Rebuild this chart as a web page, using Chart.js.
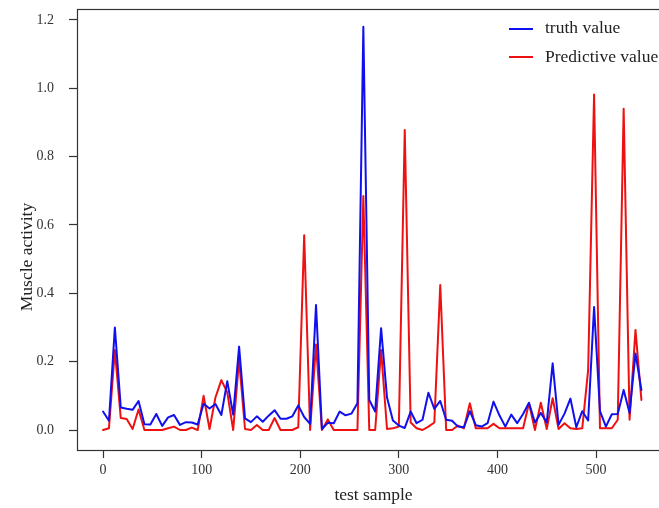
<!DOCTYPE html>
<html>
<head>
<meta charset="utf-8">
<script src="https://cdn.jsdelivr.net/npm/chart.js@4/dist/chart.umd.min.js"></script>
<style>
html,body{margin:0;padding:0;background:#fff;overflow:hidden;width:659px;height:508px;}
#wrap{position:absolute;left:0;top:0;width:670px;height:508px;}
</style>
</head>
<body>
<div id="wrap"><canvas id="c" width="670" height="508"></canvas></div>
<script>
const sampleStep = 6;
const truthValues = [0.054,0.027,0.30,0.066,0.062,0.059,0.085,0.017,0.016,0.047,
0.012,0.037,0.044,0.015,0.023,0.022,0.016,0.077,0.063,0.076,
0.044,0.143,0.045,0.244,0.034,0.023,0.040,0.024,0.042,0.058,
0.033,0.033,0.040,0.072,0.038,0.018,0.366,0.003,0.021,0.020,
0.054,0.043,0.048,0.078,1.18,0.088,0.054,0.298,0.095,0.028,
0.013,0.006,0.054,0.020,0.030,0.109,0.062,0.085,0.030,0.027,
0.010,0.008,0.055,0.014,0.010,0.020,0.083,0.043,0.010,0.045,
0.020,0.047,0.080,0.022,0.050,0.022,0.195,0.015,0.048,0.092,
0.008,0.055,0.028,0.36,0.055,0.010,0.046,0.047,0.117,0.050,
0.224,0.117];
const predictiveValues = [0.0,0.005,0.234,0.035,0.032,0.003,0.06,0.0,0.0,0.0,
0.0,0.005,0.010,0.0,0.0,0.007,0.0,0.10,0.003,0.095,
0.146,0.11,0.0,0.205,0.003,0.0,0.015,0.0,0.0,0.035,
0.0,0.0,0.0,0.008,0.57,0.0,0.25,0.0,0.031,0.0,
0.0,0.0,0.0,0.0,0.685,0.0,0.0,0.234,0.003,0.005,
0.010,0.878,0.022,0.005,0.0,0.010,0.022,0.424,0.0,0.0,
0.013,0.005,0.078,0.005,0.005,0.005,0.018,0.005,0.005,0.005,
0.005,0.005,0.078,0.0,0.080,0.003,0.093,0.003,0.020,0.005,
0.003,0.005,0.176,0.982,0.005,0.005,0.005,0.030,0.94,0.030,
0.293,0.088];
const xTickValues = [0,100,200,300,400,500];
const yTickValues = [0.0,0.2,0.4,0.6,0.8,1.0,1.2];
const seriesNames = ['truth value','Predictive value'];
const axisTitles = {x:'test sample', y:'Muscle activity'};

const toPoints = arr => arr.map((v,i)=>({x:i*sampleStep, y:v}));
const SERIF = "'Liberation Serif','Times New Roman',serif";
const BLUE = '#1010ee';
const RED = '#ee1111';
const AXC = '#333333';

const frame = {
  id:'frame',
  afterDraw(chart){
    const {ctx, chartArea:a} = chart;
    ctx.save();
    ctx.strokeStyle = AXC; ctx.lineWidth = 1.2;
    ctx.strokeRect(a.left+0.5, a.top+0.5, a.right-a.left, a.bottom-a.top);
    // y axis title
    ctx.save();
    ctx.translate(27, 257);
    ctx.rotate(-Math.PI/2);
    ctx.font = "17.5px " + SERIF;
    ctx.fillStyle = '#222';
    ctx.textAlign = 'center';
    ctx.textBaseline = 'middle';
    ctx.fillText(axisTitles.y, 0, 0);
    ctx.restore();
    // legend inside plot (top right)
    const items = [[seriesNames[0], BLUE, 29, 28],[seriesNames[1], RED, 57, 57]];
    ctx.font = "17.5px " + SERIF;
    ctx.textBaseline = 'middle';
    ctx.textAlign = 'left';
    items.forEach(([t,c,ly,ty])=>{
      ctx.strokeStyle = c; ctx.lineWidth = 2;
      ctx.beginPath(); ctx.moveTo(509,ly); ctx.lineTo(533,ly); ctx.stroke();
      ctx.fillStyle = '#222';
      ctx.fillText(t, 545, ty);
    });
    ctx.restore();
  }
};

new Chart(document.getElementById('c'), {
  type:'line',
  data:{datasets:[
    {label:seriesNames[0], data:toPoints(truthValues), borderColor:BLUE, backgroundColor:BLUE, borderWidth:2, borderJoinStyle:'round', borderCapStyle:'round', pointRadius:0, tension:0},
    {label:seriesNames[1], data:toPoints(predictiveValues), borderColor:RED, backgroundColor:RED, borderWidth:2, borderJoinStyle:'round', borderCapStyle:'round', pointRadius:0, tension:0}
  ]},
  options:{
    responsive:false, animation:false,
    layout:{padding:{top:9,right:0,left:0,bottom:0}},
    plugins:{legend:{display:false}, tooltip:{enabled:false}},
    scales:{
      x:{type:'linear', min:-26.4, max:575,
        afterBuildTicks(s){ s.ticks = xTickValues.map(v=>({value:v})); },
        afterFit(s){ s.height = 58; s.paddingLeft = 0; s.paddingRight = 0; },
        grid:{drawOnChartArea:false, drawTicks:true, tickLength:8, color:AXC, tickColor:AXC, tickWidth:1.2},
        border:{display:false},
        ticks:{font:{family:SERIF,size:14}, color:'#333', padding:4, maxRotation:0, autoSkip:false},
        title:{display:true, text:axisTitles.x, font:{family:SERIF,size:17.5}, color:'#222', padding:{top:6,bottom:2}}
      },
      y:{type:'linear', min:-0.0585, max:1.232,
        afterBuildTicks(s){ s.ticks = yTickValues.map(v=>({value:v})); },
        afterFit(s){ s.width = 77; s.paddingTop = 0; s.paddingBottom = 0; },
        grid:{drawOnChartArea:false, drawTicks:true, tickLength:8, color:AXC, tickColor:AXC, tickWidth:1.2},
        border:{display:false},
        ticks:{font:{family:SERIF,size:14}, color:'#333', padding:15, callback:v=>Number(v).toFixed(1), autoSkip:false}
      }
    }
  },
  plugins:[frame]
});
</script>
</body>
</html>
